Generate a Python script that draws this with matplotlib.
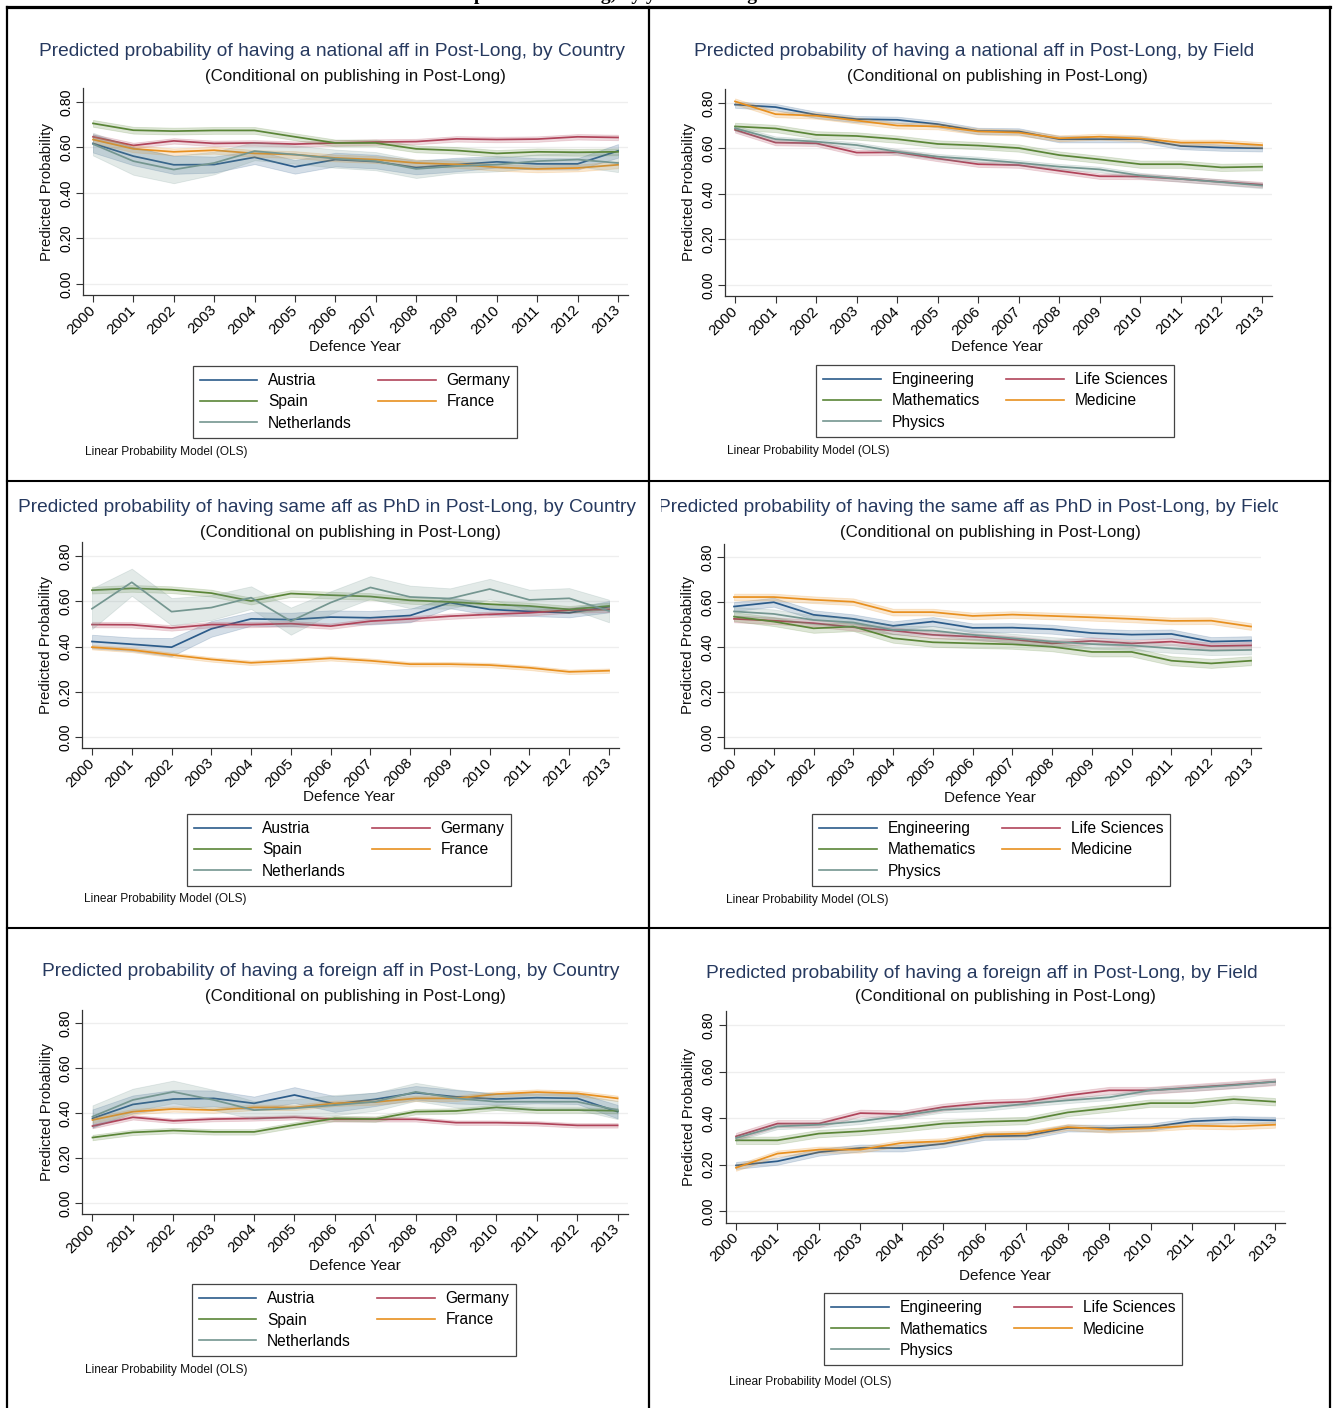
import matplotlib
matplotlib.use("Agg")
import matplotlib.pyplot as plt
from matplotlib.lines import Line2D
from matplotlib.transforms import Bbox, TransformedBbox

W, H = 1335, 1408
plt.rcParams['font.family'] = ['Liberation Sans', 'DejaVu Sans']

# ---------------------------------------------------------------- data
years = list(range(2000, 2014))
year_labels = [str(y) for y in years]
y_ticks = [0.0, 0.2, 0.4, 0.6, 0.8]
y_tick_labels = ["0.00", "0.20", "0.40", "0.60", "0.80"]

countries = ["Austria", "Germany", "Spain", "France", "Netherlands"]
fields = ["Engineering", "Life Sciences", "Mathematics", "Medicine", "Physics"]

# Predicted probability of a national affiliation, by country
nat_austria = [0.618, 0.562, 0.524, 0.525, 0.557, 0.515, 0.547, 0.538, 0.512, 0.525, 0.537, 0.528, 0.528, 0.585]
nat_germany = [0.647, 0.609, 0.629, 0.618, 0.620, 0.615, 0.620, 0.624, 0.626, 0.638, 0.635, 0.637, 0.647, 0.644]
nat_spain = [0.706, 0.676, 0.672, 0.675, 0.675, 0.647, 0.620, 0.620, 0.594, 0.587, 0.574, 0.581, 0.579, 0.581]
nat_france = [0.635, 0.594, 0.581, 0.588, 0.574, 0.569, 0.554, 0.547, 0.532, 0.526, 0.513, 0.506, 0.510, 0.524]
nat_netherlands = [0.615, 0.540, 0.503, 0.532, 0.584, 0.569, 0.551, 0.540, 0.506, 0.518, 0.525, 0.540, 0.547, 0.532]
nat_country_hw = [
    [0.040, 0.040, 0.040, 0.035, 0.030, 0.030, 0.030, 0.030, 0.030, 0.030, 0.025, 0.025, 0.025, 0.030],
    [0.012] * 14,
    [0.015] * 14,
    [0.015] * 14,
    [0.050, 0.060, 0.060, 0.050, 0.040, 0.040, 0.040, 0.040, 0.040, 0.030, 0.030, 0.030, 0.030, 0.040],
]

# Predicted probability of a national affiliation, by field
nat_engineering = [0.793, 0.782, 0.748, 0.729, 0.726, 0.707, 0.677, 0.675, 0.641, 0.641, 0.641, 0.611, 0.604, 0.601]
nat_life = [0.682, 0.626, 0.623, 0.582, 0.583, 0.556, 0.531, 0.527, 0.502, 0.478, 0.477, 0.466, 0.453, 0.441]
nat_math = [0.697, 0.688, 0.660, 0.655, 0.641, 0.620, 0.613, 0.602, 0.571, 0.552, 0.531, 0.531, 0.517, 0.520]
nat_medicine = [0.807, 0.751, 0.744, 0.723, 0.701, 0.697, 0.675, 0.670, 0.645, 0.652, 0.644, 0.626, 0.626, 0.615]
nat_physics = [0.689, 0.641, 0.630, 0.615, 0.586, 0.564, 0.552, 0.537, 0.520, 0.508, 0.481, 0.466, 0.452, 0.437]
nat_field_hw = [[0.014] * 14, [0.012] * 14, [0.016] * 14, [0.013] * 14, [0.012] * 14]

# Predicted probability of keeping the PhD affiliation, by country
same_austria = [0.422, 0.410, 0.397, 0.478, 0.522, 0.519, 0.530, 0.527, 0.537, 0.594, 0.564, 0.555, 0.549, 0.576]
same_germany = [0.497, 0.496, 0.482, 0.497, 0.497, 0.501, 0.490, 0.512, 0.522, 0.534, 0.542, 0.549, 0.561, 0.564]
same_spain = [0.649, 0.657, 0.651, 0.636, 0.601, 0.634, 0.627, 0.621, 0.604, 0.597, 0.587, 0.579, 0.564, 0.579]
same_france = [0.397, 0.385, 0.363, 0.343, 0.328, 0.337, 0.348, 0.337, 0.322, 0.322, 0.318, 0.306, 0.288, 0.293]
same_netherlands = [0.567, 0.684, 0.554, 0.572, 0.616, 0.512, 0.594, 0.661, 0.619, 0.612, 0.654, 0.606, 0.613, 0.557]
same_country_hw = [
    [0.030, 0.030, 0.040, 0.035, 0.030, 0.030, 0.030, 0.030, 0.030, 0.025, 0.025, 0.020, 0.020, 0.025],
    [0.012] * 14,
    [0.015] * 14,
    [0.010] * 14,
    [0.090, 0.060, 0.060, 0.055, 0.050, 0.060, 0.050, 0.050, 0.050, 0.045, 0.045, 0.045, 0.045, 0.050],
]

# Predicted probability of keeping the PhD affiliation, by field
same_engineering = [0.580, 0.599, 0.543, 0.525, 0.494, 0.513, 0.485, 0.486, 0.479, 0.462, 0.455, 0.458, 0.424, 0.428]
same_life = [0.525, 0.517, 0.506, 0.488, 0.473, 0.454, 0.446, 0.434, 0.416, 0.427, 0.416, 0.424, 0.404, 0.407]
same_math = [0.535, 0.513, 0.483, 0.491, 0.439, 0.421, 0.416, 0.412, 0.401, 0.378, 0.378, 0.339, 0.327, 0.339]
same_medicine = [0.622, 0.622, 0.610, 0.601, 0.555, 0.555, 0.538, 0.544, 0.538, 0.532, 0.525, 0.516, 0.517, 0.491]
same_physics = [0.558, 0.547, 0.520, 0.509, 0.476, 0.473, 0.454, 0.439, 0.424, 0.413, 0.407, 0.394, 0.384, 0.387]
same_field_hw = [[0.020] * 14, [0.015] * 14, [0.020] * 14, [0.015] * 14, [0.020] * 14]

# Predicted probability of a foreign affiliation, by country
for_austria = [0.376, 0.438, 0.462, 0.465, 0.443, 0.480, 0.440, 0.461, 0.490, 0.472, 0.462, 0.468, 0.465, 0.406]
for_germany = [0.342, 0.381, 0.365, 0.373, 0.376, 0.381, 0.372, 0.372, 0.372, 0.357, 0.357, 0.354, 0.345, 0.345]
for_spain = [0.291, 0.314, 0.322, 0.316, 0.316, 0.347, 0.376, 0.373, 0.406, 0.409, 0.425, 0.413, 0.413, 0.410]
for_france = [0.369, 0.406, 0.418, 0.413, 0.425, 0.425, 0.443, 0.449, 0.465, 0.465, 0.484, 0.493, 0.487, 0.465]
for_netherlands = [0.384, 0.458, 0.494, 0.458, 0.413, 0.421, 0.435, 0.450, 0.494, 0.465, 0.450, 0.450, 0.450, 0.413]
for_country_hw = [
    [0.040, 0.040, 0.040, 0.035, 0.030, 0.035, 0.035, 0.030, 0.030, 0.030, 0.025, 0.025, 0.025, 0.030],
    [0.010] * 14,
    [0.012] * 14,
    [0.012] * 14,
    [0.050, 0.050, 0.050, 0.045, 0.040, 0.040, 0.045, 0.040, 0.040, 0.040, 0.035, 0.035, 0.035, 0.040],
]

# Predicted probability of a foreign affiliation, by field
for_engineering = [0.196, 0.214, 0.253, 0.271, 0.271, 0.289, 0.321, 0.324, 0.357, 0.356, 0.361, 0.386, 0.393, 0.390]
for_life = [0.321, 0.376, 0.376, 0.421, 0.417, 0.447, 0.464, 0.470, 0.497, 0.519, 0.519, 0.531, 0.543, 0.556]
for_math = [0.304, 0.304, 0.333, 0.343, 0.357, 0.376, 0.384, 0.389, 0.424, 0.443, 0.464, 0.464, 0.481, 0.470]
for_medicine = [0.186, 0.247, 0.264, 0.264, 0.293, 0.300, 0.329, 0.333, 0.361, 0.350, 0.356, 0.367, 0.364, 0.371]
for_physics = [0.314, 0.364, 0.371, 0.386, 0.410, 0.436, 0.443, 0.461, 0.476, 0.489, 0.519, 0.529, 0.541, 0.556]
for_field_hw = [[0.015] * 14, [0.015] * 14, [0.016] * 14, [0.013] * 14, [0.012] * 14]

# ---------------------------------------------------------------- style
series_colors = ["#2b5b8a", "#b0445a", "#5a8537", "#e8901f", "#749690"]
title_color = "#26395f"
subtitle = "(Conditional on publishing in Post-Long)"
note = "Linear Probability Model (OLS)"

fig = plt.figure(figsize=(W / 100, H / 100), dpi=100)
fig.patch.set_facecolor("white")


def fx(px):
    return px / W


def fy(py):
    return 1 - py / H


panels = [
    dict(names=countries,
         values=[nat_austria, nat_germany, nat_spain, nat_france, nat_netherlands],
         hw=nat_country_hw,
         title="Predicted probability of having a national aff in Post-Long, by Country",
         x2000=93, x2013=618, y0=284, y80=102,
         title_xy=(332, 52), sub_xy=(355, 76), ylab_xy=(47, 192), xlab_xy=(355, 347),
         legend_c=(355, 402), note_xy=(85, 452), clip=None),
    dict(names=fields,
         values=[nat_engineering, nat_life, nat_math, nat_medicine, nat_physics],
         hw=nat_field_hw,
         title="Predicted probability of having a national aff in Post-Long, by Field",
         x2000=735, x2013=1262, y0=285, y80=103,
         title_xy=(974, 52), sub_xy=(997, 76), ylab_xy=(689, 192), xlab_xy=(997, 347),
         legend_c=(995, 401), note_xy=(727, 451), clip=None),
    dict(names=countries,
         values=[same_austria, same_germany, same_spain, same_france, same_netherlands],
         hw=same_country_hw,
         title="Predicted probability of having same aff as PhD in Post-Long, by Country",
         x2000=92, x2013=609, y0=737, y80=556,
         title_xy=(327, 508), sub_xy=(350, 532), ylab_xy=(46, 645), xlab_xy=(349, 797),
         legend_c=(349, 850), note_xy=(84, 899), clip=None),
    dict(names=fields,
         values=[same_engineering, same_life, same_math, same_medicine, same_physics],
         hw=same_field_hw,
         title="Predicted probability of having the same aff as PhD in Post-Long, by Field",
         x2000=734, x2013=1251, y0=737, y80=557,
         title_xy=(970, 508), sub_xy=(990, 532), ylab_xy=(688, 645), xlab_xy=(990, 798),
         legend_c=(991, 850), note_xy=(726, 900), clip=(661, 1278)),
    dict(names=countries,
         values=[for_austria, for_germany, for_spain, for_france, for_netherlands],
         hw=for_country_hw,
         title="Predicted probability of having a foreign aff in Post-Long, by Country",
         x2000=92.5, x2013=617.6, y0=1203, y80=1023,
         title_xy=(331, 972), sub_xy=(355, 996), ylab_xy=(47, 1112), xlab_xy=(355, 1266),
         legend_c=(354, 1320), note_xy=(85, 1370), clip=None),
    dict(names=fields,
         values=[for_engineering, for_life, for_math, for_medicine, for_physics],
         hw=for_field_hw,
         title="Predicted probability of having a foreign aff in Post-Long, by Field",
         x2000=736, x2013=1275, y0=1211, y80=1025,
         title_xy=(982, 973), sub_xy=(1005, 997), ylab_xy=(689, 1117), xlab_xy=(1005, 1276),
         legend_c=(1003, 1329), note_xy=(729, 1382), clip=None),
]

XMIN, XMAX = 1999.75, 2013.25
YMIN, YMAX = -0.05, 0.86

for p in panels:
    dx = (p["x2013"] - p["x2000"]) / 13.0
    py = (p["y0"] - p["y80"]) / 0.8
    left = p["x2000"] - (2000 - XMIN) * dx
    right = p["x2013"] + (XMAX - 2013) * dx
    bottom = p["y0"] + (0 - YMIN) * py
    top = p["y80"] - (YMAX - 0.8) * py
    ax = fig.add_axes([fx(left), fy(bottom), (right - left) / W, (bottom - top) / H])
    ax.set_xlim(XMIN, XMAX)
    ax.set_ylim(YMIN, YMAX)
    ax.set_facecolor("white")

    handles = []
    for i, (vals, hw) in enumerate(zip(p["values"], p["hw"])):
        c = series_colors[i]
        lo = [v - h for v, h in zip(vals, hw)]
        hi = [v + h for v, h in zip(vals, hw)]
        ax.fill_between(years, lo, hi, color=c, alpha=0.2, lw=0.6, zorder=2 + i)
        ax.plot(years, vals, color=c, lw=1.25, zorder=3 + i)
        handles.append(Line2D([], [], color=c, lw=1.2))

    ax.set_yticks(y_ticks)
    ax.set_yticklabels(y_tick_labels, rotation=90, va="center", fontsize=10.3)
    ax.set_xticks(years)
    ax.set_xticklabels(year_labels, rotation=45, ha="right", va="center",
                       rotation_mode="anchor", fontsize=10.8)
    ax.tick_params(axis="both", direction="out", length=5, width=0.8, color="#333333", pad=2)
    ax.tick_params(axis="x", pad=4)
    ax.grid(axis="y", color="#eeeeee", lw=0.9, zorder=0)
    ax.set_axisbelow(True)
    for side in ("top", "right"):
        ax.spines[side].set_visible(False)
    for side in ("left", "bottom"):
        ax.spines[side].set_color("#333333")
        ax.spines[side].set_linewidth(0.9)

    t = fig.text(fx(p["title_xy"][0]), fy(p["title_xy"][1]), p["title"], ha="center", va="center",
                 fontsize=13.8, color=title_color)
    if p["clip"] is not None:
        cb = TransformedBbox(Bbox([[fx(p["clip"][0]), 0], [fx(p["clip"][1]), 1]]), fig.transFigure)
        t.set_clip_box(cb)
        t.set_clip_on(True)
    fig.text(fx(p["sub_xy"][0]), fy(p["sub_xy"][1]), subtitle, ha="center", va="center",
             fontsize=12.2, color="#111111")
    fig.text(fx(p["ylab_xy"][0]), fy(p["ylab_xy"][1]), "Predicted Probability", rotation=90,
             ha="center", va="center", fontsize=10.8, color="#111111")
    fig.text(fx(p["xlab_xy"][0]), fy(p["xlab_xy"][1]), "Defence Year", ha="center", va="center",
             fontsize=11, color="#111111")

    order = [0, 2, 4, 1, 3]
    leg = ax.legend([handles[k] for k in order], [p["names"][k] for k in order], ncol=2,
                    loc="center", bbox_to_anchor=(fx(p["legend_c"][0]), fy(p["legend_c"][1])),
                    bbox_transform=fig.transFigure, frameon=True, fancybox=False,
                    edgecolor="#444444", framealpha=1, fontsize=11.2, handlelength=3.7,
                    handletextpad=0.7, columnspacing=1.7, labelspacing=0.4, borderpad=0.45,
                    borderaxespad=0)
    leg.get_frame().set_linewidth(0.9)

    fig.text(fx(p["note_xy"][0]), fy(p["note_xy"][1]), note, ha="left", va="center",
             fontsize=8.6, color="#111111")

# header line, mostly above the top edge of the page
fig.text(fx(300), fy(0.5), "Outcomes of the sample in Post-Long, by year and origin",
         ha="left", va="baseline", fontsize=14, fontweight="bold",
         family=["Liberation Serif", "DejaVu Serif"], color="black")

# table rules around the six cells
def rule(x0, y0, x1, y1, lw):
    fig.add_artist(Line2D([fx(x0), fx(x1)], [fy(y0), fy(y1)], color="black", lw=lw,
                          transform=fig.transFigure, solid_capstyle="projecting"))

rule(7, 7, 1330, 7, 2.3)
rule(7, 7, 7, 1408, 1.6)
rule(1330, 7, 1330, 1408, 1.6)
rule(649, 7, 649, 1408, 1.6)
rule(7, 481, 1330, 481, 1.5)
rule(7, 928, 1330, 928, 1.5)

fig.savefig("out.png", dpi=100, facecolor="white")
